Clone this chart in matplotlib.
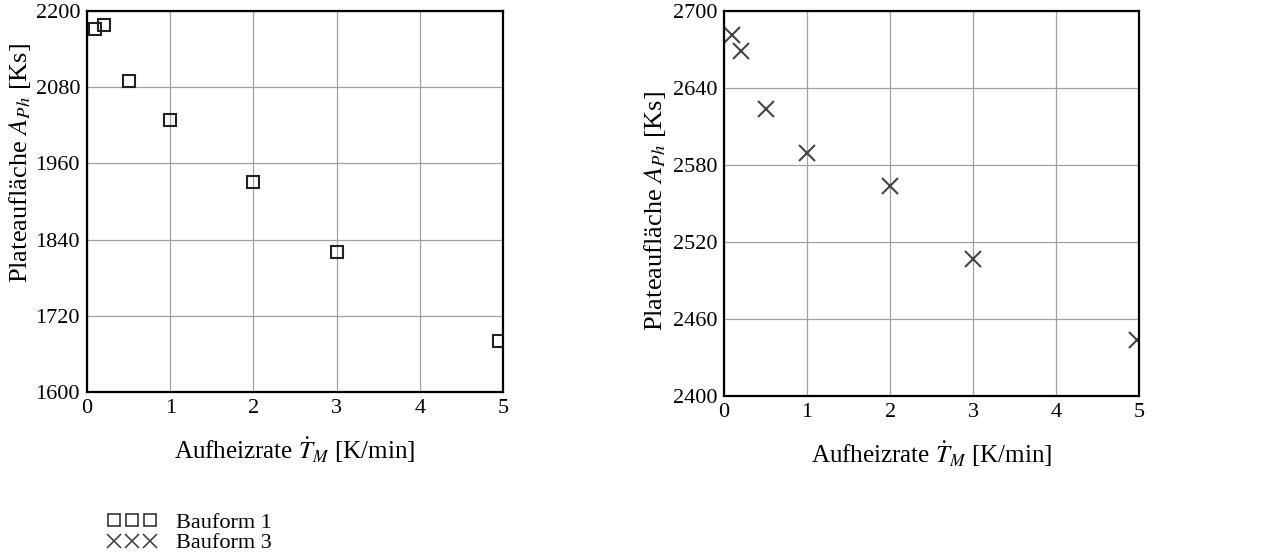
import matplotlib.pyplot as plt
from matplotlib.lines import Line2D

plt.rcParams['font.family'] = ['Liberation Serif', 'DejaVu Serif']
plt.rcParams['mathtext.fontset'] = 'stix'

# Bauform 1
rate_1 = [0.1, 0.2, 0.5, 1.0, 2.0, 3.0, 4.95]
area_1 = [2172, 2178, 2090, 2028, 1931, 1821, 1681]
# Bauform 3
rate_3 = [0.1, 0.2, 0.5, 1.0, 2.0, 3.0, 4.97]
area_3 = [2681, 2669, 2624, 2589, 2564, 2507, 2444]

xticks = [0, 1, 2, 3, 4, 5]
yticks_1 = [1600, 1720, 1840, 1960, 2080, 2200]
yticks_3 = [2400, 2460, 2520, 2580, 2640, 2700]

fig = plt.figure(figsize=(12.87, 5.54), dpi=100)
ax1 = fig.add_axes([0.0676, 0.2924, 0.3233, 0.6877])
ax2 = fig.add_axes([0.5626, 0.2852, 0.3225, 0.6949])

xlab = r'Aufheizrate $\dot{T}_M$ [K/min]'
ylab = r'Plateaufläche $A_{Ph}$ [Ks]'

ax1.plot(rate_1, area_1, ls='none', marker='s', ms=9, mfc='none', mec='#222222', mew=1.5)
ax2.plot(rate_3, area_3, ls='none', marker='x', ms=12, mec='#444444', mew=1.5)

for ax, yt in [(ax1, yticks_1), (ax2, yticks_3)]:
    ax.set_xlim(0, 5)
    ax.set_ylim(yt[0], yt[-1])
    ax.set_xticks(xticks)
    ax.set_yticks(yt)
    ax.grid(True, color='#a0a0a0', lw=0.9)
    ax.set_axisbelow(True)
    ax.tick_params(length=0, labelsize=16, pad=5)
    for s in ax.spines.values():
        s.set_linewidth(1.6)
    ax.set_xlabel(xlab, fontsize=18, labelpad=12)
    ax.set_ylabel(ylab, fontsize=19)

ax1.yaxis.set_label_coords(-0.13, 0.6)
ax2.yaxis.set_label_coords(-0.135, 0.48)

handles = [
    Line2D([], [], ls='none', marker='s', ms=8.5, mfc='none', mec='#333333', mew=1.2),
    Line2D([], [], ls='none', marker='x', ms=10, mec='#444444', mew=1.2),
]
fig.legend(handles, ['Bauform 1', 'Bauform 3'], loc='lower left',
           bbox_to_anchor=(0.068, -0.035), numpoints=3, frameon=False,
           fontsize=16, handlelength=2.2, handletextpad=0.9, labelspacing=0.0,
           markerscale=1.0)

fig.savefig('out.png', dpi=100)
